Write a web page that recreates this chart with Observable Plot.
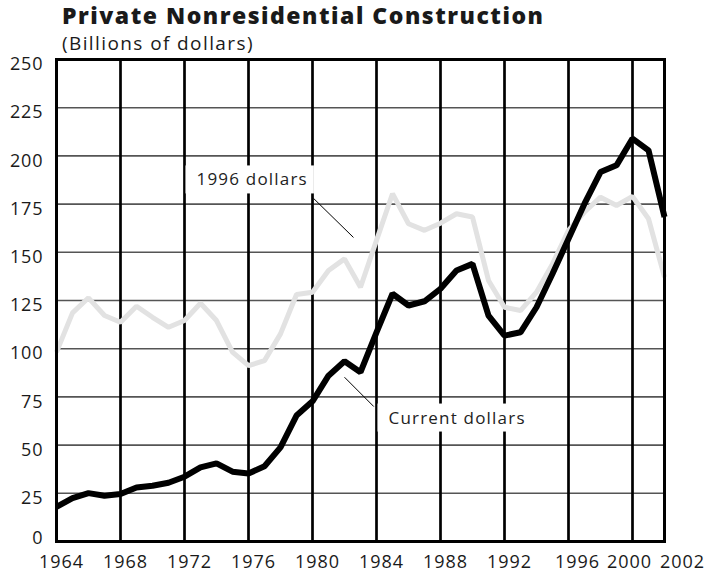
<!DOCTYPE html>
<html>
<head>
<meta charset="utf-8">
<script src="https://cdn.jsdelivr.net/npm/d3@7"></script>
<script src="https://cdn.jsdelivr.net/npm/@observablehq/plot@0.6"></script>
<style>
  body { margin: 0; background: #fff; }
  #wrap { position: relative; width: 710px; height: 575px; font-family: "Open Sans", sans-serif; }
  .title { position: absolute; left: 62px; top: 4px; font-size: 23px; font-weight: 800; line-height: 23px; color: #1a1a1a; letter-spacing: 1.5px; white-space: nowrap; }
  .sub { position: absolute; left: 62px; top: 34px; font-size: 19px; line-height: 19px; color: #1a1a1a; letter-spacing: 1.4px; white-space: nowrap; }
  svg { position: absolute; left: 0; top: 0; }
</style>
</head>
<body>
<div id="wrap">
  <div class="title">Private Nonresidential Construction</div>
  <div class="sub">(Billions of dollars)</div>
</div>
<script>
const years = [1964,1965,1966,1967,1968,1969,1970,1971,1972,1973,1974,1975,1976,1977,1978,1979,1980,1981,1982,1983,
  1984,1985,1986,1987,1988,1989,1990,1991,1992,1993,1994,1995,1996,1997,1998,1999,2000,2001,2002];
const currentDollars = [18.0,22.5,25.1,23.7,24.6,28.0,28.9,30.5,33.6,38.4,40.5,36.2,35.3,39.0,48.8,65.3,72.7,86.0,93.5,87.8,
  108.5,128.5,122.4,124.6,131.1,140.6,144.0,117.2,106.8,108.5,121.5,138.9,157.0,175.2,191.6,195.1,209.0,202.9,168.3];
const dollars1996 = [98.2,118.6,126.4,117.2,113.7,122.0,116.3,111.1,114.6,123.6,114.6,98.2,91.2,93.8,107.7,128.1,129.3,140.6,146.6,131.9,
  156.2,180.4,164.8,161.4,165.1,170.0,168.3,135.4,121.5,119.8,129.3,144.0,161.4,170.9,178.6,174.3,179.0,167.4,137.1];
const yTicks = [0,25,50,75,100,125,150,175,200,225,250];
const xTicks = [1964,1968,1972,1976,1980,1984,1988,1992,1996,2000,2002];
const vGrid = [1968,1972,1976,1980,1984,1988,1992,1996,2000];
const labelText = ["1996 dollars", "Current dollars"];
const labelYear = [1972.75, 1984.75];
const labelValue = [187.5, 64.0];
const leaderFrom = [[1980.06, 178.0], [1982.0, 85.2]];
const leaderTo = [[1982.56, 157.7], [1983.83, 70.0]];

const seriesCurrent = years.map((year, i) => ({year, value: currentDollars[i]}));
const series1996 = years.map((year, i) => ({year, value: dollars1996[i]}));
const labels = labelText.map((text, i) => ({text, year: labelYear[i], value: labelValue[i]}));
const leaders = leaderFrom.map((f, i) => ({x1: f[0], y1: f[1], x2: leaderTo[i][0], y2: leaderTo[i][1]}));

const fmt = d => `${d}`;
const axisFont = 18;

const chart = Plot.plot({
  width: 710,
  height: 575,
  marginLeft: 56,
  marginRight: 46,
  marginTop: 59,
  marginBottom: 34,
  style: {fontFamily: "'Open Sans', sans-serif", color: "#1a1a1a", background: "transparent"},
  x: {domain: [1964, 2002]},
  y: {domain: [0, 250]},
  marks: [
    Plot.ruleY(yTicks.filter(v => v > 0 && v < 250), {stroke: "#555", strokeWidth: 1.6}),
    Plot.ruleX(vGrid, {stroke: "#000", strokeWidth: 2.7}),
    Plot.line(series1996, {x: "year", y: "value", stroke: "#e2e2e2", strokeWidth: 5, strokeLinejoin: "miter", strokeLinecap: "butt"}),
    Plot.line(seriesCurrent, {x: "year", y: "value", stroke: "#000", strokeWidth: 6, strokeLinejoin: "miter", strokeLinecap: "butt"}),
    Plot.frame({stroke: "#000", strokeWidth: 3}),
    Plot.link(leaders, {x1: "x1", y1: "y1", x2: "x2", y2: "y2", stroke: "#000", strokeWidth: 1}),
    Plot.text(labels, {x: "year", y: "value", text: "text", textAnchor: "start", fontSize: 17, fill: "#222"}),
    Plot.axisY({ticks: yTicks.filter(v => v > 0), tickSize: 0, tickPadding: 13, fontSize: axisFont, dy: 5, tickFormat: fmt, label: null}),
    Plot.axisY({ticks: [0], tickSize: 0, tickPadding: 13, fontSize: axisFont, dy: -3, tickFormat: fmt, label: null}),
    Plot.axisX({ticks: xTicks.slice(0, 8), tickSize: 0, tickPadding: 14, fontSize: axisFont, dx: 5, tickFormat: fmt, label: null}),
    Plot.axisX({ticks: [1996], tickSize: 0, tickPadding: 14, fontSize: axisFont, dx: 9, tickFormat: fmt, label: null}),
    Plot.axisX({ticks: [2000], tickSize: 0, tickPadding: 14, fontSize: axisFont, dx: -3, tickFormat: fmt, label: null}),
    Plot.axisX({ticks: [2002], tickSize: 0, tickPadding: 14, fontSize: axisFont, dx: 18, tickFormat: fmt, label: null})
  ]
});

document.getElementById("wrap").appendChild(chart);

// letter spacing for all svg text (the reference face is wider)
chart.querySelectorAll("text").forEach(t => {
  const isLabel = labelText.includes(t.textContent);
  t.style.letterSpacing = isLabel ? "1.2px" : "0.9px";
});

// white boxes behind the annotation labels (they break the grid lines)
chart.querySelectorAll("text").forEach(t => {
  if (!labelText.includes(t.textContent)) return;
  const b = t.getBBox();
  const r = document.createElementNS("http://www.w3.org/2000/svg", "rect");
  r.setAttribute("x", b.x - 11);
  r.setAttribute("y", b.y - 2);
  r.setAttribute("width", b.width + 17);
  r.setAttribute("height", b.height + 5);
  r.setAttribute("fill", "#fff");
  const tr = t.getAttribute("transform");
  if (tr) r.setAttribute("transform", tr);
  t.parentNode.insertBefore(r, t);
});
</script>
</body>
</html>
